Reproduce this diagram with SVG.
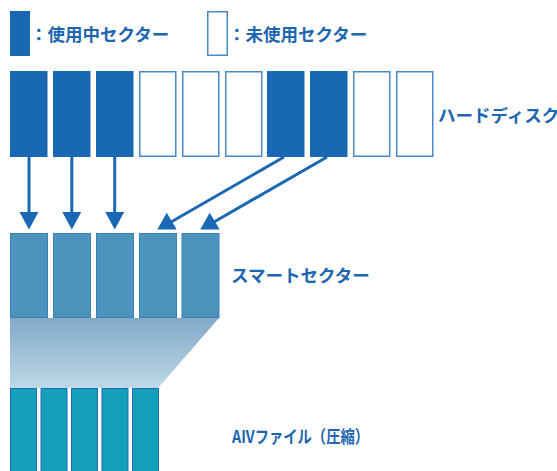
<svg xmlns="http://www.w3.org/2000/svg" width="557" height="471" viewBox="0 0 557 471">
<style>
.lbl{font-family:"Noto Sans CJK JP","Noto Sans",sans-serif;font-weight:bold;font-size:17.5px;fill:#1d66b0}
.used{fill:#1868b3}
.free{fill:#ffffff;stroke:#4a88c8;stroke-width:1.5}
.smart{fill:#4b94bc;stroke:#3a7fb6;stroke-width:1}
.aiv{fill:#149fbb;stroke:#2369b3;stroke-width:1}
.conn{stroke:#1a67b3;stroke-width:3;fill:none}
.head{fill:#1a67b3}
</style>
<defs>
<linearGradient id="fun" x1="0" y1="0" x2="0" y2="1">
<stop offset="0" stop-color="#82a9c8"/>
<stop offset="1" stop-color="#bed9e7"/>
</linearGradient>
</defs>
<g id="legend-used">
<rect class="used" x="10" y="11" width="20" height="45"/>
<text class="lbl" x="30" y="40.5">：使用中セクター</text>
</g>
<g id="legend-free">
<rect class="free" x="207.75" y="11.75" width="19.5" height="43.5"/>
<text class="lbl" x="228" y="40.5">：未使用セクター</text>
</g>
<g id="hdd">
<rect class="used" x="10" y="71" width="37.5" height="86"/>
<rect class="used" x="53" y="71" width="37.5" height="86"/>
<rect class="used" x="96" y="71" width="37.5" height="86"/>
<rect class="free" x="139.75" y="71.75" width="36" height="84.5"/>
<rect class="free" x="182.75" y="71.75" width="36" height="84.5"/>
<rect class="free" x="225.75" y="71.75" width="36" height="84.5"/>
<rect class="used" x="267" y="71" width="37.5" height="86"/>
<rect class="used" x="310" y="71" width="37.5" height="86"/>
<rect class="free" x="353.75" y="71.75" width="36" height="84.5"/>
<rect class="free" x="396.75" y="71.75" width="36" height="84.5"/>
<text class="lbl" x="438" y="122">ハードディスク</text>
</g>
<g id="connectors">
<line class="conn" x1="29" y1="157" x2="29" y2="214"/>
<polygon class="head" points="19.5,212 38.5,212 29,229.5"/>
<line class="conn" x1="71.8" y1="157" x2="71.8" y2="214"/>
<polygon class="head" points="62.3,212 81.3,212 71.8,229.5"/>
<line class="conn" x1="114.7" y1="157" x2="114.7" y2="214"/>
<polygon class="head" points="105.2,212 124.2,212 114.7,229.5"/>
<line class="conn" x1="284" y1="157" x2="171" y2="222"/>
<polygon class="head" points="157.3,229.5 176.7,229.5 166.7,212.7"/>
<line class="conn" x1="327" y1="157" x2="214" y2="222"/>
<polygon class="head" points="200.3,229.5 219.7,229.5 209.7,212.7"/>
</g>
<g id="smart">
<rect class="smart" x="10.5" y="233.5" width="37" height="84"/>
<rect class="smart" x="53.5" y="233.5" width="37" height="84"/>
<rect class="smart" x="96.5" y="233.5" width="37" height="84"/>
<rect class="smart" x="139.5" y="233.5" width="37" height="84"/>
<rect class="smart" x="182" y="233.5" width="37" height="84"/>
<text class="lbl" x="231" y="282">スマートセクター</text>
</g>
<g id="funnel">
<polygon points="10,318 219,318 158,388 10,388" fill="url(#fun)"/>
</g>
<g id="aiv">
<rect class="aiv" x="10.5" y="388.5" width="26" height="90"/>
<rect class="aiv" x="41" y="388.5" width="26" height="90"/>
<rect class="aiv" x="71.5" y="388.5" width="26" height="90"/>
<rect class="aiv" x="102" y="388.5" width="26" height="90"/>
<rect class="aiv" x="132.5" y="388.5" width="26" height="90"/>
<text class="lbl" x="232" y="443" textLength="137" lengthAdjust="spacingAndGlyphs">AIVファイル（圧縮）</text>
</g>
</svg>
